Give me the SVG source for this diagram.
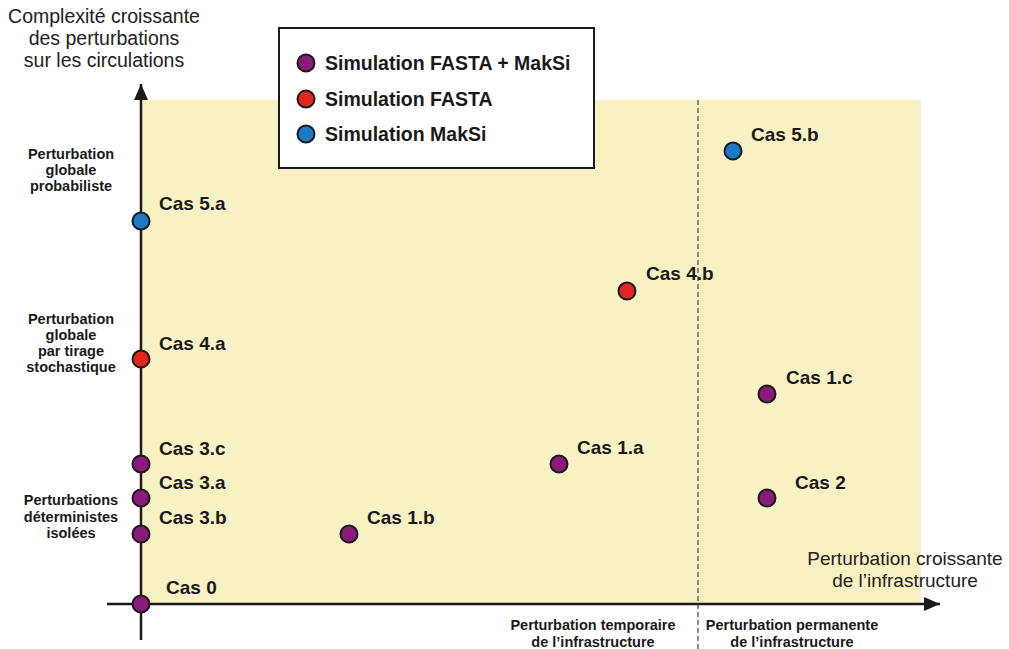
<svg xmlns="http://www.w3.org/2000/svg" width="1009" height="649" viewBox="0 0 1009 649">
<defs>
<marker id="arrL" markerWidth="18" markerHeight="14" refX="16" refY="7" orient="auto" markerUnits="userSpaceOnUse"><path d="M0,0 L16,7 L0,14 Z" fill="#1a1a1a"/></marker>
</defs>
<style>
.pt{stroke:#1a1a1a;stroke-width:2}
.p{fill:#8b1a7a}
.r{fill:#e0261f}
.b{fill:#1a7ac7}
.cas{font-family:"Liberation Sans",Arial,sans-serif;font-weight:bold;font-size:19px;fill:#1a1a1a}
.side{font-family:"Liberation Sans",Arial,sans-serif;font-weight:bold;font-size:14.5px;fill:#1a1a1a;text-anchor:middle}
.title{font-family:"Liberation Sans",Arial,sans-serif;font-size:19.5px;fill:#222;text-anchor:middle}
.xt{font-family:"Liberation Sans",Arial,sans-serif;font-size:19px;fill:#222;text-anchor:middle}
.leg{font-family:"Liberation Sans",Arial,sans-serif;font-weight:bold;font-size:19.5px;fill:#1a1a1a}
.bot{font-family:"Liberation Sans",Arial,sans-serif;font-weight:bold;font-size:14.5px;fill:#1a1a1a;text-anchor:middle}
</style>
<rect width="1009" height="649" fill="#ffffff"/>
<rect x="142" y="100" width="779" height="504" fill="#f8f1c3"/>
<g id="axes">
<line x1="141" y1="640" x2="141" y2="84" stroke="#1a1a1a" stroke-width="2.5" marker-end="url(#arrL)"/>
<line x1="107" y1="604" x2="940" y2="604" stroke="#1a1a1a" stroke-width="2.5" marker-end="url(#arrL)"/>
<line x1="698" y1="100" x2="698" y2="649" stroke="#444" stroke-width="1.2" stroke-dasharray="5,3"/>
</g>
<g id="titles">
<text class="title" x="104" y="23">Complexité croissante</text>
<text class="title" x="104" y="45">des perturbations</text>
<text class="title" x="104" y="67">sur les circulations</text>
<text class="xt" x="905" y="565">Perturbation croissante</text>
<text class="xt" x="905" y="587">de l’infrastructure</text>
</g>
<g id="side-labels">
<text class="side" x="71" y="159">Perturbation</text>
<text class="side" x="71" y="175">globale</text>
<text class="side" x="71" y="191">probabiliste</text>
<text class="side" x="71" y="324">Perturbation</text>
<text class="side" x="71" y="340">globale</text>
<text class="side" x="71" y="356">par tirage</text>
<text class="side" x="71" y="372">stochastique</text>
<text class="side" x="71" y="505">Perturbations</text>
<text class="side" x="71" y="522">déterministes</text>
<text class="side" x="71" y="538">isolées</text>
<text class="bot" x="593" y="630">Perturbation temporaire</text>
<text class="bot" x="593" y="647">de l’infrastructure</text>
<text class="bot" x="792" y="630">Perturbation permanente</text>
<text class="bot" x="792" y="647">de l’infrastructure</text>
</g>
<g id="legend">
<rect x="279" y="28" width="315" height="140" fill="#ffffff" stroke="#1a1a1a" stroke-width="2"/>
<circle class="pt p" cx="306" cy="63" r="8.5"/>
<text class="leg" x="325" y="70">Simulation FASTA + MakSi</text>
<circle class="pt r" cx="306" cy="99" r="8.5"/>
<text class="leg" x="325" y="106">Simulation FASTA</text>
<circle class="pt b" cx="306" cy="134" r="8.5"/>
<text class="leg" x="325" y="141">Simulation MakSi</text>
</g>
<g id="cas5a"><circle class="pt b" cx="141" cy="221" r="8.5"/><text class="cas" x="159" y="210">Cas 5.a</text></g>
<g id="cas4a"><circle class="pt r" cx="141" cy="359" r="8.5"/><text class="cas" x="159" y="350">Cas 4.a</text></g>
<g id="cas3c"><circle class="pt p" cx="141" cy="464" r="8.5"/><text class="cas" x="159" y="455">Cas 3.c</text></g>
<g id="cas3a"><circle class="pt p" cx="141" cy="498" r="8.5"/><text class="cas" x="159" y="489">Cas 3.a</text></g>
<g id="cas3b"><circle class="pt p" cx="141" cy="534" r="8.5"/><text class="cas" x="159" y="524">Cas 3.b</text></g>
<g id="cas0"><circle class="pt p" cx="141" cy="604" r="8.5"/><text class="cas" x="166" y="594">Cas 0</text></g>
<g id="cas1b"><circle class="pt p" cx="349" cy="534" r="8.5"/><text class="cas" x="367" y="524">Cas 1.b</text></g>
<g id="cas1a"><circle class="pt p" cx="559" cy="464" r="8.5"/><text class="cas" x="577" y="454">Cas 1.a</text></g>
<g id="cas4b"><circle class="pt r" cx="627" cy="291" r="8.5"/><text class="cas" x="646" y="280">Cas 4.b</text></g>
<g id="cas5b"><circle class="pt b" cx="733" cy="151" r="8.5"/><text class="cas" x="751" y="141">Cas 5.b</text></g>
<g id="cas1c"><circle class="pt p" cx="767" cy="394" r="8.5"/><text class="cas" x="786" y="384">Cas 1.c</text></g>
<g id="cas2"><circle class="pt p" cx="767" cy="498" r="8.5"/><text class="cas" x="795" y="489">Cas 2</text></g>
</svg>
